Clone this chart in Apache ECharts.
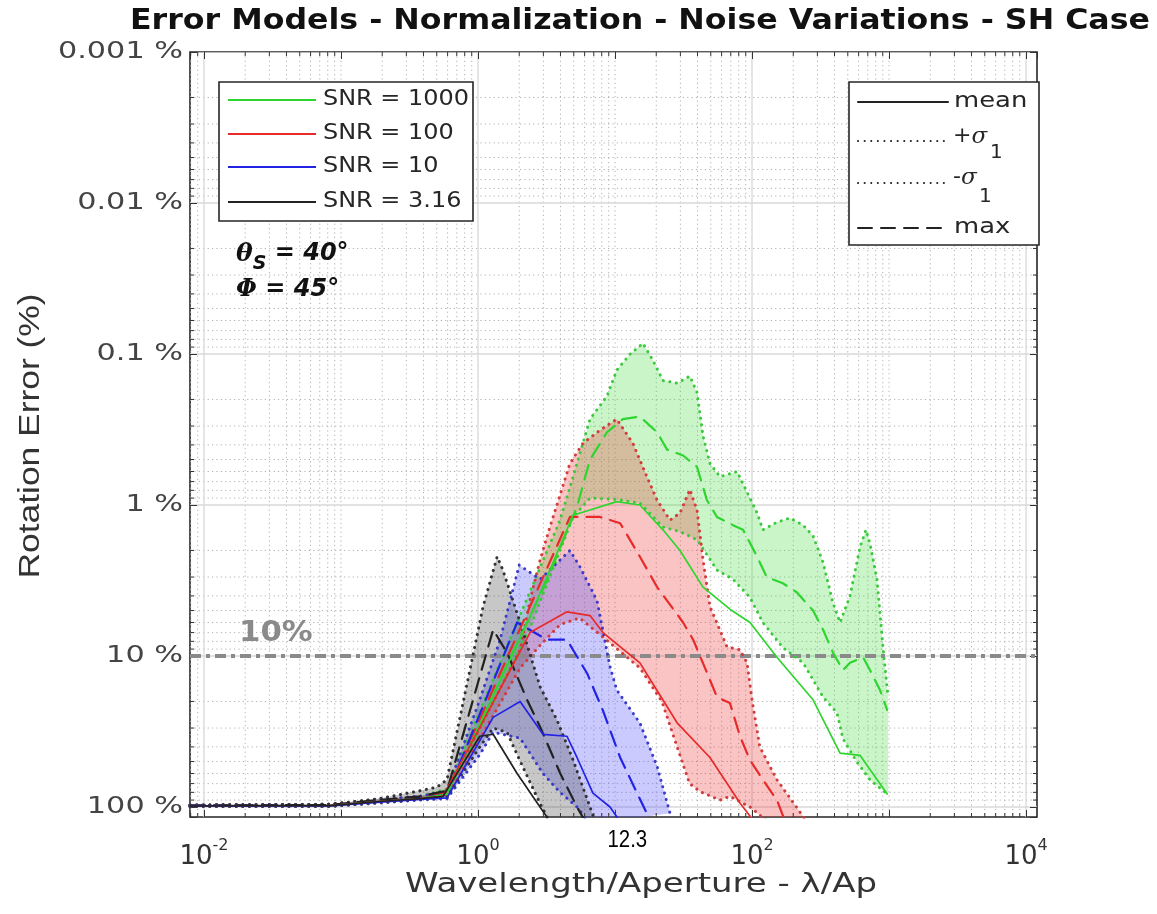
<!DOCTYPE html>
<html><head><meta charset="utf-8">
<script src="https://cdn.jsdelivr.net/npm/echarts@6/dist/echarts.min.js"></script>
<style>html,body{margin:0;padding:0;background:#fff}#c{width:1157px;height:914px}</style>
</head><body><div id="c"></div>
<script>
// ---------------- data (x = lambda/Ap, y = rotation error in %) ----------------
const snrNames = ['SNR = 1000', 'SNR = 100', 'SNR = 10', 'SNR = 3.16'];
const statNames = ['mean', '+σ1', '-σ1', 'max'];
const xTickExp = [-2, 0, 2, 4];
const yTickValues = [0.001, 0.01, 0.1, 1, 10, 100];
const yTickLabels = ['0.001 %', '0.01 %', '0.1 %', '1 %', '10 %', '100 %'];
const thresholdValue = 10;
const markerValue = 12.3;

// SNR = 1000 (green)
const g_mean = [[0.0079,98.5],[0.083,98],[0.19,92],[0.38,88],[0.594,82],[2.4,5.5],[4.94,1.17],[10.3,0.95],[15.2,1.0],[22.4,1.46],[29.8,2.0],[43.9,3.5],[69,4.9],[96.7,6.0],[152,10.2],[279,19.5],[439,44],[614,45.5],[970,82]];
const g_max = [[0.0079,98],[0.083,97.5],[0.19,91],[0.38,87],[0.594,80],[3.19,3.14],[5.28,1.03],[6.57,0.5],[8.74,0.33],[11.4,0.27],[15.2,0.26],[20.3,0.33],[24,0.43],[31.4,0.47],[39.7,0.56],[46.9,0.93],[55.5,1.2],[72.6,1.36],[86,1.46],[109,2.2],[128,3.0],[168,3.3],[213,3.8],[279,5.0],[330,6.7],[390,9.5],[461,12.4],[519,11.1],[646,10.2],[726,12.4],[859,16.8],[970,22.8]];
const g_up = [[0.0079,97],[0.083,96],[0.19,89],[0.38,85],[0.594,76],[3.97,1.26],[5.1,0.59],[6.57,0.27],[8.74,0.19],[10.3,0.128],[12.9,0.1],[16,0.085],[18.9,0.11],[22.4,0.15],[28.4,0.156],[35.2,0.14],[39.7,0.18],[43.9,0.35],[49.3,0.53],[58.4,0.65],[77.8,0.6],[92,0.82],[109,1.13],[120,1.46],[152,1.3],[189,1.22],[236,1.36],[279,1.6],[330,2.4],[390,4.45],[439,6.0],[519,4.0],[614,1.9],[679,1.46],[726,1.8],[817,3.1],[904,8.8],[984,18.7]];
const g_lo = [[0.0079,99],[0.083,99],[0.19,94],[0.38,89],[0.594,84],[2.4,6.5],[4.94,1.2],[6.57,0.9],[10.3,0.92],[15.2,0.97],[22.4,1.4],[29.8,1.5],[39.7,1.7],[55.5,2.7],[72.6,3.1],[96.7,4.1],[120,6.0],[168,8.8],[236,11.1],[330,18.7],[417,23.8],[461,35.3],[584,50.5],[726,66],[984,83]];

// SNR = 100 (red)
const r_mean = [[0.0079,98.5],[0.083,98],[0.19,92],[0.38,88],[0.555,85],[2.4,7.0],[4.46,5.1],[6.57,5.4],[8.17,7.0],[15.2,11.1],[28.4,27.7],[49.3,47],[81.7,94],[114,140]];
const r_max = [[0.0079,98],[0.083,97.5],[0.19,91],[0.38,87],[0.594,80],[4.69,1.2],[7.77,1.2],[10.9,1.32],[15.2,2.2],[20.3,3.5],[31.4,6.0],[37.2,7.8],[46.9,12.9],[55.5,18.7],[69,20.5],[81.7,34],[96.7,49],[120,66],[152,90],[174,124]];
const r_up = [[0.0079,97],[0.083,96],[0.19,89],[0.38,85],[0.594,79],[2.03,9.1],[2.4,4.26],[2.84,2.31],[3.35,1.4],[3.97,0.86],[4.69,0.53],[5.84,0.39],[7.77,0.32],[10.3,0.27],[13.5,0.39],[17.1,0.65],[20.3,0.93],[25.2,1.26],[29.8,1.13],[35.2,0.79],[39.7,1.08],[43.9,2.31],[49.3,4.7],[65.7,8.7],[81.7,9.1],[92,11.1],[100,19.5],[114,40],[152,66],[240,118]];
const r_lo = [[0.0079,99],[0.083,99],[0.19,94],[0.38,89],[0.594,86],[2.03,12],[2.84,8.5],[3.97,6.2],[5.5,5.6],[8.17,7.5],[15.2,12],[22,20],[28.4,40],[35,70],[41.7,79],[58.4,90],[69,85],[96.7,100],[130,125]];

// SNR = 10 (blue)
const b_mean = [[0.0079,98.5],[0.083,98.5],[0.19,93],[0.38,89],[0.594,87],[1.29,25.5],[2.03,20],[2.98,33],[4.46,34],[5.28,47],[6.9,81],[9.2,100],[10.9,125]];
const b_max = [[0.0079,98],[0.083,97.5],[0.19,91],[0.38,87],[0.594,83],[1.93,6.0],[3.19,7.8],[4.46,7.8],[6.25,13],[8.17,23],[10.9,47],[14.5,81],[18,122]];
const b_up = [[0.0079,97],[0.083,96],[0.19,89],[0.38,85],[0.594,78],[1.03,19.5],[1.45,7.8],[2.0,2.5],[2.84,3.1],[4.69,2.0],[5.55,2.57],[7.39,4.3],[9.2,11.8],[10.3,16.8],[15.2,27.8],[20.3,54],[25.2,110]];
const b_lo = [[0.0079,99],[0.083,99],[0.19,94],[0.38,90],[0.594,88],[1.03,45],[1.29,32],[2.03,35],[2.98,60],[3.97,80],[5.28,100],[6.6,130]];

// SNR = 3.16 (black)
const k_mean = [[0.0079,98.5],[0.083,98],[0.19,92],[0.38,88],[0.555,85],[1.03,34],[1.29,33],[1.93,60],[3.19,117],[4,190]];
const k_max = [[0.0079,98],[0.083,97],[0.19,90],[0.38,85],[0.594,78],[1.29,6.7],[1.63,9.5],[2.28,19.5],[2.84,29.5],[3.97,59.5],[5.28,100],[6.57,142]];
const k_up = [[0.0079,97],[0.083,96],[0.19,88],[0.33,80],[0.5,74],[0.594,66],[1.09,4.7],[1.38,2.2],[1.52,2.7],[2.03,6.0],[2.84,16],[3.77,26.5],[4.94,48.8],[6.57,100],[7.5,140]];
const k_lo = [[0.0079,99],[0.083,99],[0.19,93],[0.38,89],[0.594,86],[1.03,40],[1.29,30],[1.63,32],[1.93,45],[2.84,95],[3.4,130]];

// ---------------- styling ----------------
const X_MIN = 0.007907, X_MAX = 12023, Y_MIN = 0.001, Y_MAX = 116.5;
const GRID = {left:190, top:52, width:847, height:765};
const COL = {
  g:{line:'#2fd52f', dot:'#3cc83c', fill:'rgba(60,220,60,0.28)'},
  r:{line:'#e82a2a', dot:'#d23c3c', fill:'rgba(240,60,60,0.30)'},
  b:{line:'#2323e6', dot:'#3a3ac8', fill:'rgba(80,80,255,0.30)'},
  k:{line:'#222222', dot:'#333333', fill:'rgba(70,70,70,0.30)'}
};
const DOT = [0.1, 6.5], DASH = [15, 9];

const mctx = document.createElement('canvas').getContext('2d');
function fit(text, font, target){ mctx.font = font; return target / mctx.measureText(text).width; }

function band(up, lo, fill){
  const pts = up.concat(lo.slice().reverse());
  return {type:'custom', clip:true, silent:true, z:1, animation:false,
    data:[[1,1]], encode:{x:0,y:1},
    renderItem:(p, api) => ({type:'polygon', shape:{points: pts.map(q => api.coord(q))}, style:{fill:fill, stroke:null}})};
}
function line(data, color, type, width, z){
  return {type:'line', data:data, symbol:'none', showSymbol:false, z:z, silent:true, animation:false, clip:true,
    lineStyle:{color:color, width:width, type:type, cap:'round', join:'round'}};
}
// full-length grid lines (dir 'x' = vertical line at an x value)
function gridLines(vals, dir, style, z){
  return {type:'custom', clip:true, silent:true, z:z, animation:false,
    data: vals.map(v => dir === 'x' ? [v, 1] : [1, v]), encode:{x:0,y:1},
    renderItem:(p, api) => {
      let a, b;
      if (dir === 'x') { a = api.coord([api.value(0), Y_MIN]); b = api.coord([api.value(0), Y_MAX]); }
      else { a = api.coord([X_MIN, api.value(1)]); b = api.coord([X_MAX, api.value(1)]); }
      return {type:'line', shape:{x1:a[0], y1:a[1], x2:b[0], y2:b[1]}, style:style};
    }};
}
// inside minor ticks on both edges
function minorTicks(vals, dir, len){
  return {type:'custom', clip:false, silent:true, z:6, animation:false,
    data: vals.map(v => dir === 'x' ? [v, 1] : [1, v]), encode:{x:0,y:1},
    renderItem:(p, api) => {
      const st = {stroke:'#333', lineWidth:1};
      if (dir === 'x') {
        const a = api.coord([api.value(0), Y_MAX]), b = api.coord([api.value(0), Y_MIN]);
        return {type:'group', children:[
          {type:'line', shape:{x1:a[0], y1:a[1], x2:a[0], y2:a[1]-len}, style:st},
          {type:'line', shape:{x1:b[0], y1:b[1], x2:b[0], y2:b[1]+len}, style:st}]};
      }
      const a = api.coord([X_MIN, api.value(1)]), b = api.coord([X_MAX, api.value(1)]);
      return {type:'group', children:[
        {type:'line', shape:{x1:a[0], y1:a[1], x2:a[0]+len, y2:a[1]}, style:st},
        {type:'line', shape:{x1:b[0], y1:b[1], x2:b[0]-len, y2:b[1]}, style:st}]};
    }};
}

// grid line positions (decades and their 2..9 multiples)
const xMajor = xTickExp.map(e => Math.pow(10, e));
const xMinor = [], xMinorT = [], yMajor = [], yMinor = [];
for (let e = -3; e <= 4; e++) for (let m = 1; m <= 9; m++) {
  const v = m * Math.pow(10, e);
  if (v > X_MIN && v < X_MAX) {
    if (!(m === 1 && e % 2 === 0)) xMinor.push(v);
    if (m !== 1) xMinorT.push(v);
  }
}
for (let e = -3; e <= 2; e++) for (let m = 1; m <= 9; m++) {
  const v = m * Math.pow(10, e);
  if (m === 1) yMajor.push(v); else if (v < Y_MAX) yMinor.push(v);
}

const series = [
  gridLines(xMinor, 'x', {stroke:'#b0b0b0', lineWidth:1, lineDash:[1.2,3.2]}, 0),
  gridLines(yMinor, 'y', {stroke:'#b0b0b0', lineWidth:1, lineDash:[1.2,3.2]}, 0),
  gridLines(xMajor, 'x', {stroke:'#d8d8d8', lineWidth:1.3}, 0),
  gridLines(yMajor, 'y', {stroke:'#d8d8d8', lineWidth:1.3}, 0),
  band(g_up, g_lo, COL.g.fill),
  band(r_up, r_lo, COL.r.fill),
  band(b_up, b_lo, COL.b.fill),
  band(k_up, k_lo, COL.k.fill),
  gridLines([thresholdValue], 'y', {stroke:'#8a8a8a', lineWidth:4, lineDash:[11,5,4,5]}, 2),
  minorTicks(xMinorT, 'x', 4),
  minorTicks(yMinor, 'y', 4)
];
[[g_mean,g_up,g_lo,g_max,COL.g],[r_mean,r_up,r_lo,r_max,COL.r],[b_mean,b_up,b_lo,b_max,COL.b],[k_mean,k_up,k_lo,k_max,COL.k]]
.forEach(([mn, up, lo, mx, c], i) => {
  series.push(line(up, c.dot, DOT, 3, 3));
  series.push(line(lo, c.dot, DOT, 3, 3));
  series.push(line(mx, c.line, DASH, 2.2, 4));
  series.push(Object.assign(line(mn, c.line, 'solid', 1.7, 5), {name: snrNames[i]}));
});

const chart = echarts.init(document.getElementById('c'));
const axisTickStyle = {show:true, inside:true, length:7, lineStyle:{color:'#333', width:1}};
chart.setOption({
  animation:false,
  backgroundColor:'#fff',
  grid:{left:GRID.left, top:GRID.top, width:GRID.width, height:GRID.height, show:true, borderColor:'#262626', borderWidth:1.6, backgroundColor:'transparent'},
  xAxis:[
    {type:'log', logBase:10, min:X_MIN, max:X_MAX, axisLine:{show:false}, splitLine:{show:false}, axisTick:axisTickStyle,
      axisLabel:{margin:21, color:'#333', showMinLabel:false, showMaxLabel:false,
        formatter:v => { const e = Math.log10(v), r = Math.round(e); if (Math.abs(e-r) > 1e-6 || xTickExp.indexOf(r) < 0) return ''; return '{b|10}{s|' + (r < 0 ? '-' + (-r) : r) + '}'; },
        rich:{b:{fontSize:26, fontFamily:'DejaVu Sans', color:'#333', lineHeight:32, verticalAlign:'bottom'}, s:{fontSize:16, fontFamily:'DejaVu Sans', color:'#333', lineHeight:32, verticalAlign:'top'}}}},
    {type:'log', logBase:10, min:X_MIN, max:X_MAX, position:'top', axisLine:{show:false}, splitLine:{show:false}, axisTick:axisTickStyle, axisLabel:{show:false}}
  ],
  yAxis:[
    {type:'log', logBase:10, min:Y_MIN, max:Y_MAX, inverse:true, axisLine:{show:false}, splitLine:{show:false}, axisTick:axisTickStyle, axisLabel:{show:false}},
    {type:'log', logBase:10, min:Y_MIN, max:Y_MAX, inverse:true, position:'right', axisLine:{show:false}, splitLine:{show:false}, axisTick:axisTickStyle, axisLabel:{show:false}}
  ],
  series: series
});

// ---------------- text & legends ----------------
const titleTxt = 'Error Models - Normalization - Noise Variations - SH Case';
const titleFont = 'bold 28px "DejaVu Sans"';
const xName = 'Wavelength/Aperture - λ/Ap', xFont = '26px "DejaVu Sans"';
const yName = 'Rotation Error (%)', yFont = '29px "Liberation Sans"';
const legFont = '21px "DejaVu Sans"';
const legScale = fit('SNR = 1000', legFont, 146);
const yLabFont = '23px "DejaVu Sans"';
const yLabScale = fit('0.001 %', yLabFont, 125);
const thr = chart.convertToPixel({xAxisIndex:0, yAxisIndex:0}, [0.018, thresholdValue]);
const mk = chart.convertToPixel({xAxisIndex:0}, markerValue);

const yLabels = yTickValues.map((v, i) => ({type:'text', x:183, y:chart.convertToPixel({yAxisIndex:0}, v), scaleX:yLabScale,
  style:{text:yTickLabels[i], font:yLabFont, fill:'#444', textAlign:'right', textVerticalAlign:'middle'}}));

const legend1 = snrNames.map((n, i) => {
  const y = [100, 134, 167, 202][i];
  const c = [COL.g, COL.r, COL.b, COL.k][i].line;
  return [
    {type:'line', z:12, shape:{x1:228, y1:y, x2:316, y2:y}, style:{stroke:c, lineWidth:2}},
    {type:'text', z:12, x:323, y:y, scaleX:legScale, style:{text:n, font:legFont, fill:'#262626', textVerticalAlign:'middle'}}
  ];
}).flat();
const legend2Y = [102, 141, 183, 228];
const legend2Dash = [null, [0.1, 6.5], [0.1, 6.5], [14, 9]];
const sigmaRich = {a:{font:legFont, fill:'#262626'}, g:{font:'italic 22px "DejaVu Serif"', fill:'#262626'}};
const legend2 = statNames.map((n, i) => {
  const y = legend2Y[i];
  const items = [{type:'line', z:12, shape:{x1:858, y1:y, x2:948, y2:y}, style:{stroke:'#222', lineWidth:2, lineDash:legend2Dash[i], lineCap:'round'}}];
  if (i === 0 || i === 3) {
    items.push({type:'text', z:12, x:954, y:y, scaleX:1.23, style:{text:n, font:legFont, fill:'#262626', textVerticalAlign:'middle'}});
  } else {
    const plus = i === 1;
    items.push({type:'text', z:12, x:953, y:plus ? 137 : 178, scaleX:1.05, style:{text:'{a|' + n[0] + '}{g|σ}', rich:sigmaRich, textVerticalAlign:'middle'}});
    items.push({type:'text', z:12, x:plus ? 990 : 979, y:plus ? 153 : 197, style:{text:n.slice(2), font:'20px "DejaVu Sans"', fill:'#262626', textVerticalAlign:'middle'}});
  }
  return items;
}).flat();

chart.setOption({graphic: [
  {type:'text', x:640, y:22, scaleX:fit(titleTxt, titleFont, 1020), style:{text:titleTxt, font:titleFont, fill:'#111', textAlign:'center', textVerticalAlign:'middle'}},
  {type:'text', x:641, y:885, scaleX:fit(xName, xFont, 472), style:{text:xName, font:xFont, fill:'#333', textAlign:'center', textVerticalAlign:'middle'}},
  {type:'text', x:31, y:436, rotation:Math.PI/2, scaleX:fit(yName, yFont, 285), style:{text:yName, font:yFont, fill:'#333', textAlign:'center', textVerticalAlign:'middle'}},
  {type:'rect', shape:{x:219, y:82, width:254, height:139}, style:{fill:'#fff', stroke:'#262626', lineWidth:1.6}, z:10},
  {type:'rect', shape:{x:849, y:82, width:190, height:163}, style:{fill:'#fff', stroke:'#262626', lineWidth:1.6}, z:10},
  {type:'text', x:236, y:258, z:11, style:{text:'{t|θ}{s|S}{e| = 40°}', textVerticalAlign:'middle',
    rich:{t:{font:'bold italic 25px "DejaVu Serif"', fill:'#111', lineHeight:32, verticalAlign:'top'}, s:{font:'bold italic 19px "DejaVu Sans"', fill:'#111', lineHeight:32, verticalAlign:'bottom'}, e:{font:'bold italic 24px "DejaVu Sans"', fill:'#111', lineHeight:32, verticalAlign:'top'}}}},
  {type:'text', x:236, y:290, z:11, style:{text:'{t|Φ}{e| = 45°}', textVerticalAlign:'middle',
    rich:{t:{font:'bold italic 24px "DejaVu Serif"', fill:'#111'}, e:{font:'bold italic 24px "DejaVu Sans"', fill:'#111'}}}},
  {type:'text', x:thr[0], y:thr[1] - 22, z:11, scaleX:1.1, style:{text:'10%', font:'bold 28px "DejaVu Sans"', fill:'#8a8a8a', textVerticalAlign:'middle'}},
  {type:'text', x:mk, y:840, z:11, scaleX:0.85, style:{text:String(markerValue), font:'24px "Liberation Sans"', fill:'#000', textAlign:'center', textVerticalAlign:'middle'}}
].concat(yLabels, legend1, legend2)});
</script></body></html>
